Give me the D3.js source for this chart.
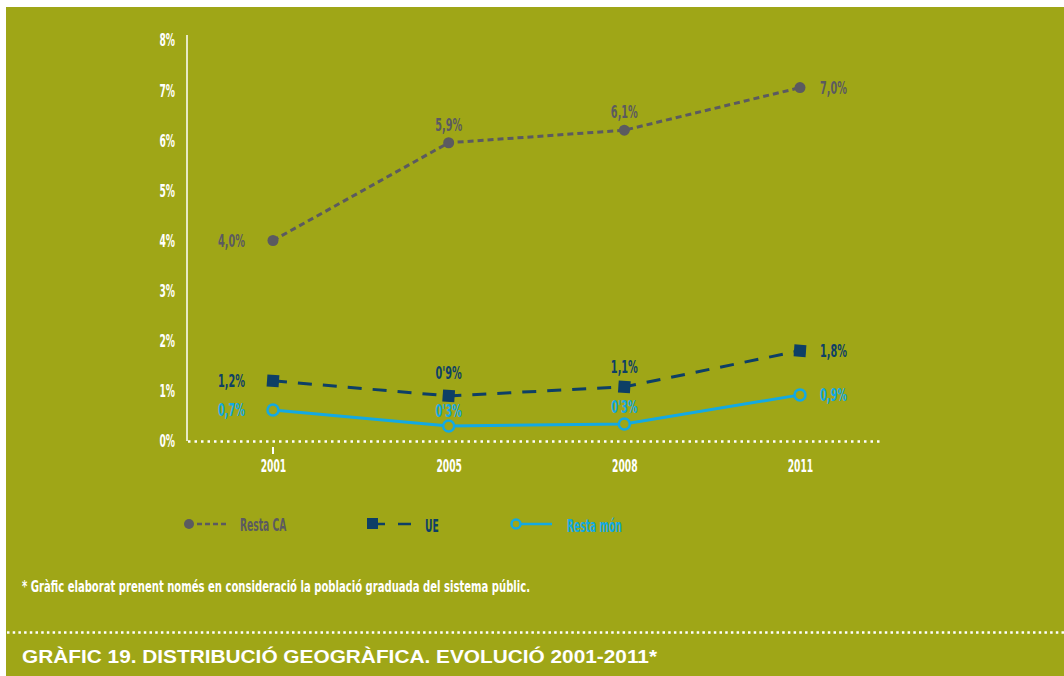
<!DOCTYPE html>
<html><head><meta charset="utf-8">
<script src="https://cdn.jsdelivr.net/npm/d3@7"></script>
<style>
html,body{margin:0;padding:0;background:#fff;}
svg{display:block;}
text{font-family:"DejaVu Sans Condensed","DejaVu Sans",sans-serif;font-weight:bold;}
</style></head>
<body>
<svg id="chart" width="1064" height="676"></svg>
<script>
const years = ["2001","2005","2008","2011"];
const yTicks = [0,1,2,3,4,5,6,7,8];
const restaCA = [4.0, 5.95, 6.2, 7.05];
const restaCALabels = ["4,0%","5,9%","6,1%","7,0%"];
const ue = [1.2, 0.9, 1.08, 1.8];
const ueLabels = ["1,2%","0'9%","1,1%","1,8%"];
const restaMon = [0.62, 0.3, 0.34, 0.92];
const restaMonLabels = ["0,7%","0'3%","0'3%","0,9%"];
const seriesNames = ["Resta CA","UE","Resta món"];
const footnote = "* Gràfic elaborat prenent només en consideració la població graduada del sistema públic.";
const title = "GRÀFIC 19. DISTRIBUCIÓ GEOGRÀFICA. EVOLUCIÓ 2001-2011*";

const BG = "#9fa617", GRAY = "#5b5a60", NAVY = "#0d3f66", CYAN = "#13a9e3";
const SX = 0.6; // horizontal condensing of the narrow display face
const svg = d3.select("#chart");
svg.append("rect").attr("x",6).attr("y",7).attr("width",1058).attr("height",669).attr("fill",BG);

const x = d3.scalePoint().domain(years).range([273, 800]);
const y = d3.scaleLinear().domain([0,8]).range([441, 40]);

function ctext(g, px, py, str, color, size, anchor, dy) {
  return g.append("text")
    .attr("transform", `translate(${px},${py}) scale(${SX},1)`)
    .attr("text-anchor", anchor || "start")
    .attr("dy", dy || "0")
    .attr("fill", color).attr("font-size", size).text(str);
}

// y axis
const yAxis = d3.axisLeft(y).tickValues(yTicks).tickFormat(d => d + "%").tickSize(0).tickPadding(20);
const gy = svg.append("g").attr("transform","translate(187,0)").call(yAxis);
gy.select(".domain").remove();
gy.selectAll("text").attr("fill","#fff").attr("font-size",17).attr("dy","0.35em")
  .attr("transform",`scale(${SX},1)`);
svg.append("line").attr("x1",187).attr("x2",187).attr("y1",35).attr("y2",441)
  .attr("stroke","#fff").attr("stroke-width",1.5);

// x axis
const xAxis = d3.axisBottom(x).tickSize(0).tickPadding(20);
const gx = svg.append("g").attr("transform","translate(0,441)").call(xAxis);
gx.select(".domain").remove();
gx.selectAll("text").attr("fill","#fff").attr("font-size",17).attr("dy","0.65em")
  .attr("transform",`scale(${SX},1)`);
svg.append("line").attr("x1",188).attr("x2",882).attr("y1",441.5).attr("y2",441.5)
  .attr("stroke","#fff").attr("stroke-width",2.5).attr("stroke-dasharray","2.5,4");
svg.append("line").attr("x1",x(years[0])).attr("x2",x(years[0])).attr("y1",447).attr("y2",454)
  .attr("stroke","#fff").attr("stroke-width",2);

const line = d3.line().x((d,i)=>x(years[i])).y(d=>y(d));

// series
svg.append("path").datum(restaCA).attr("d",line).attr("fill","none")
  .attr("stroke",GRAY).attr("stroke-width",3).attr("stroke-dasharray","6,4");
svg.append("path").datum(ue).attr("d",line).attr("fill","none")
  .attr("stroke",NAVY).attr("stroke-width",3).attr("stroke-dasharray","14,11");
svg.append("path").datum(restaMon).attr("d",line).attr("fill","none")
  .attr("stroke",CYAN).attr("stroke-width",3);

svg.selectAll(".mca").data(restaCA).join("circle")
  .attr("cx",(d,i)=>x(years[i])).attr("cy",d=>y(d)).attr("r",5.5).attr("fill",GRAY);
svg.selectAll(".mue").data(ue).join("rect")
  .attr("x",(d,i)=>x(years[i])-6).attr("y",d=>y(d)-6).attr("width",12).attr("height",12)
  .attr("fill",NAVY)
  .attr("transform",(d,i)=>`rotate(4 ${x(years[i])} ${y(d)})`);
svg.selectAll(".mmon").data(restaMon).join("circle")
  .attr("cx",(d,i)=>x(years[i])).attr("cy",d=>y(d)).attr("r",5.5)
  .attr("fill",BG).attr("stroke",CYAN).attr("stroke-width",2.5);

// data labels: index 0 left, 1-2 above, 3 right
function labels(vals, labs, color, aboveOff) {
  const g = svg.append("g");
  vals.forEach((d,i) => {
    const px = i===0 ? x(years[i])-28 : i===3 ? x(years[i])+20 : x(years[i]);
    const py = (i===0||i===3) ? y(d) : y(d)-aboveOff[i];
    ctext(g, px, py, labs[i], color, 18,
      i===0 ? "end" : i===3 ? "start" : "middle",
      (i===0||i===3) ? "0.35em" : "0");
  });
}
labels(restaCA, restaCALabels, GRAY, [0,12,12,0]);
labels(ue, ueLabels, NAVY, [0,17,14,0]);
labels(restaMon, restaMonLabels, CYAN, [0,9,11,0]);

// legend
const ly = 524;
const lg = svg.append("g");
lg.append("circle").attr("cx",189).attr("cy",ly).attr("r",5).attr("fill",GRAY);
lg.append("line").attr("x1",197).attr("x2",229).attr("y1",ly).attr("y2",ly)
  .attr("stroke",GRAY).attr("stroke-width",2.5).attr("stroke-dasharray","5,3");
ctext(lg, 240, ly+1, seriesNames[0], GRAY, 17, "start", "0.35em");
lg.append("rect").attr("x",367).attr("y",ly-6).attr("width",11).attr("height",11).attr("fill",NAVY);
lg.append("line").attr("x1",378).attr("x2",385).attr("y1",ly).attr("y2",ly).attr("stroke",NAVY).attr("stroke-width",2.5);
lg.append("line").attr("x1",398).attr("x2",411).attr("y1",ly).attr("y2",ly).attr("stroke",NAVY).attr("stroke-width",2.5);
ctext(lg, 425, ly+2, seriesNames[1], NAVY, 17, "start", "0.35em");
lg.append("line").attr("x1",520).attr("x2",552).attr("y1",ly).attr("y2",ly).attr("stroke",CYAN).attr("stroke-width",2.5);
lg.append("circle").attr("cx",516).attr("cy",ly).attr("r",4.5).attr("fill",BG).attr("stroke",CYAN).attr("stroke-width",2.5);
ctext(lg, 567, ly+2, seriesNames[2], CYAN, 17, "start", "0.35em");

// footnote
svg.append("text").attr("x",22).attr("y",592).attr("fill","#fff").attr("font-size",15)
  .attr("textLength",508).attr("lengthAdjust","spacingAndGlyphs").text(footnote);

// dotted separator
svg.append("line").attr("x1",7).attr("x2",1064).attr("y1",632.5).attr("y2",632.5)
  .attr("stroke","#fff").attr("stroke-width",2.5).attr("stroke-dasharray","2.5,3.2");

// title
svg.append("text").attr("x",22).attr("y",663).attr("fill","#fff")
  .style("font-family","'Liberation Sans',Arial,sans-serif").attr("font-size",18).attr("font-weight","bold")
  .attr("textLength",635).attr("lengthAdjust","spacingAndGlyphs")
  .text(title);
</script>
</body></html>
